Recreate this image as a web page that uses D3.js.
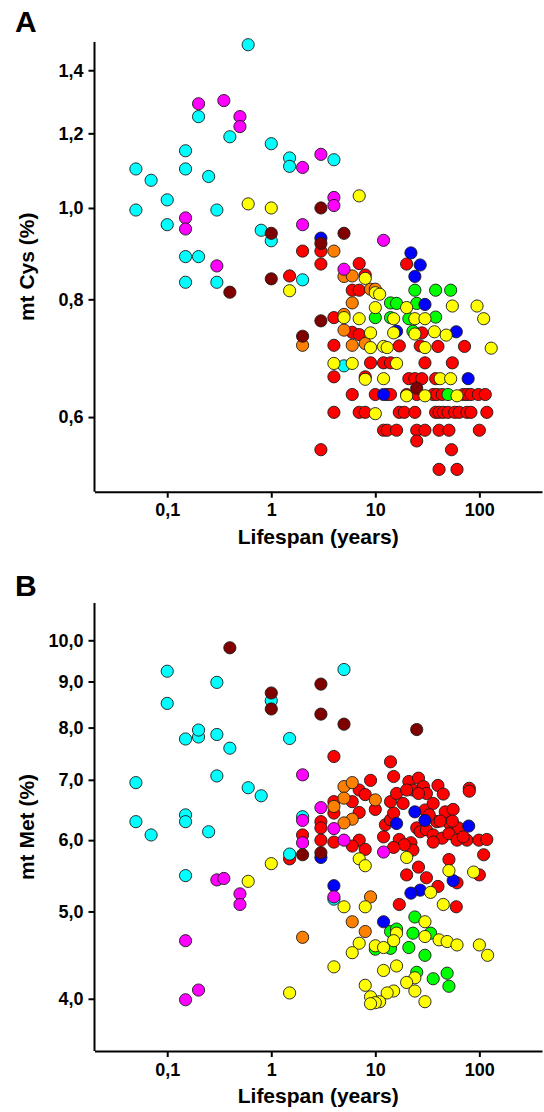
<!DOCTYPE html>
<html><head><meta charset="utf-8">
<script src="https://cdn.jsdelivr.net/npm/d3@7"></script>
<style>body{margin:0;background:#fff}svg{display:block}</style>
</head><body>
<svg id="c" width="544" height="1112"></svg>
<script>
// ---------- DATA ----------
const xTicks = [0.1, 1, 10, 100];
const xTickLabels = ["0,1", "1", "10", "100"];
const cysTicks = [0.6, 0.8, 1.0, 1.2, 1.4];
const cysTickLabels = ["0,6", "0,8", "1,0", "1,2", "1,4"];
const metTicks = [4, 5, 6, 7, 8, 9, 10];
const metTickLabels = ["4,0", "5,0", "6,0", "7,0", "8,0", "9,0", "10,0"];

const groupNames = ["red", "orange", "green", "blue", "cyan", "magenta", "brown", "yellow"];
const groupColors = ["#ff0000", "#ff8000", "#00ff00", "#0000ff", "#00ffff", "#ff00ff", "#800000", "#ffff00"];

// Panel A: [lifespan (years), mt Cys (%)]
const cysRed = [[1.5,0.847],[2,0.90],[3,0.90],[3,0.872],[20,0.872],[7,0.873],[8,0.849],[6,0.818],[7,0.818],[4,0.765],[6,0.738],[7,0.734],[28,0.737],[4,0.715],[17,0.714],[27,0.714],[40,0.713],[72,0.713],[9,0.685],[12,0.685],[14,0.685],[30,0.685],[55,0.685],[4,0.662],[8,0.662],[21,0.659],[24,0.659],[28,0.659],[38,0.659],[6,0.634],[10,0.634],[13,0.634],[14,0.634],[20,0.634],[25,0.634],[36,0.634],[39,0.634],[44,0.634],[70,0.634],[76,0.634],[83,0.634],[98,0.634],[114,0.634],[4,0.607],[7,0.607],[8,0.607],[17,0.607],[19,0.607],[24,0.607],[38,0.607],[41,0.607],[45,0.607],[50,0.607],[58,0.607],[64,0.607],[76,0.607],[83,0.607],[118,0.607],[12,0.581],[13,0.581],[16,0.581],[25,0.581],[30,0.581],[41,0.581],[51,0.581],[100,0.581],[25,0.566],[3,0.554],[54,0.554],[41,0.528],[61,0.528]];
const cysOrange = [[4,0.90],[5,0.846],[6,0.847],[9,0.82],[10,0.82],[6,0.793],[5,0.771],[2,0.715],[5,0.742],[6,0.715],[8,0.718]];
const cysGreen = [[14,0.793],[16,0.792],[24,0.818],[38,0.818],[53,0.818],[25,0.792],[10,0.765],[14,0.765],[21,0.763],[38,0.766],[23,0.74],[50,0.634]];
const cysBlue = [[3,0.929],[22,0.896],[27,0.87],[24,0.846],[30,0.79],[16,0.74],[60,0.739],[78,0.659],[12,0.634]];
const cysCyan = [[0.6,1.49],[0.2,1.25],[0.4,1.19],[1,1.17],[0.15,1.15],[0.15,1.10],[0.05,1.10],[0.07,1.07],[0.25,1.08],[0.1,1.02],[0.05,0.995],[0.3,0.995],[0.1,0.96],[0.8,0.947],[1,0.923],[0.15,0.888],[0.2,0.888],[0.15,0.834],[0.3,0.834],[1.5,1.13],[1.5,1.107],[4,1.125],[2,0.839],[5,0.68]];
const cysMagenta = [[0.2,1.29],[0.35,1.30],[0.5,1.25],[0.5,1.22],[0.15,0.976],[0.15,0.95],[0.3,0.868],[2,1.104],[3,1.14],[4,1.026],[4,1.006],[2,0.96],[12,0.924],[5,0.861]];
const cysBrown = [[0.4,0.814],[1,0.94],[1,0.841],[3,1.0],[5,0.94],[3,0.917],[3,0.759],[2,0.731],[25,0.644]];
const cysYellow = [[0.6,1.01],[1,1.0],[1.5,0.817],[7,1.03],[8,0.842],[10,0.813],[11,0.81],[10,0.784],[20,0.784],[55,0.787],[95,0.787],[110,0.763],[130,0.71],[5,0.765],[7,0.763],[15,0.763],[24,0.763],[30,0.763],[9,0.737],[15,0.737],[24,0.735],[37,0.739],[48,0.733],[9,0.711],[12,0.713],[13,0.711],[30,0.711],[4,0.684],[6,0.684],[16,0.684],[8,0.658],[12,0.659],[42,0.659],[53,0.659],[20,0.632],[30,0.632],[61,0.632],[10,0.605]];

// Panel B: [lifespan (years), mt Met (%)]
const metRed = [[4,7.43],[14,7.33],[15,7.06],[9,6.99],[7,6.82],[8,6.74],[6,6.62],[4,6.62],[7,6.44],[4,6.43],[10,6.49],[3,6.29],[3,6.19],[3,6.0],[2,6.08],[1.5,5.72],[4,5.97],[7,6.0],[8,5.86],[6,5.91],[12,6.05],[12.5,6.24],[14,6.32],[15,6.43],[14,6.62],[16,6.76],[18.5,6.59],[21,6.97],[26,7.03],[23,6.82],[29,6.88],[31,6.76],[40,6.90],[45,6.75],[80,6.85],[80,6.8],[30,6.48],[36,6.59],[47,6.45],[56,6.49],[39,6.29],[51,6.27],[63,6.19],[76,6.0],[99,6.0],[118,6.01],[110,5.78],[25,6.19],[27,6.13],[31,6.16],[36,6.08],[44,6.03],[51,6.10],[61,6.0],[36,5.97],[17,6.01],[22,5.96],[23,5.85],[19,5.93],[15,5.89],[26,5.60],[20,5.49],[31,5.45],[40,5.33],[51,5.71],[61,5.38],[100,5.49],[17,5.09],[60,5.06],[20,6.82],[26,6.76],[33,6.4],[42,6.3],[55,6.3],[70,6.05]];
const metOrange = [[5,6.88],[6,6.95],[5,6.68],[10,6.65],[4,6.54],[6,6.33],[5,6.27],[9,5.19],[6,4.87],[2,4.68],[8,4.75]];
const metGreen = [[14,4.75],[16,4.78],[24,4.93],[23,4.73],[34,4.73],[10,4.54],[14,4.55],[21,4.56],[30,4.47],[25,4.28],[36,4.21],[49,4.27],[51,4.13]];
const metBlue = [[24,6.45],[30,6.31],[16,6.26],[79,6.22],[3,5.74],[27,5.28],[22,5.24],[56,5.41],[4,5.34],[12,4.87]];
const metCyan = [[0.1,9.24],[0.1,8.51],[0.3,8.98],[1,8.57],[0.15,7.77],[0.2,7.81],[0.2,7.95],[0.3,7.86],[0.4,7.59],[0.3,7.07],[0.05,6.95],[0.6,6.86],[0.8,6.72],[0.05,6.29],[0.15,6.40],[0.15,6.29],[0.07,6.08],[0.25,6.13],[0.15,5.48],[1.5,5.79],[5,9.28],[1.5,7.78],[2,6.37],[4,5.16]];
const metMagenta = [[0.3,5.42],[0.35,5.44],[0.5,5.23],[0.5,5.09],[0.15,4.64],[0.2,4.09],[0.15,3.99],[2,7.09],[3,6.52],[2,6.31],[4,6.18],[2,5.96],[5,6.0],[12,5.82],[4,5.19]];
const metBrown = [[0.4,9.81],[1,8.74],[1,8.39],[3,8.94],[3,8.28],[5,8.07],[25,7.96],[2,5.78],[3,5.81]];
const metYellow = [[0.6,5.40],[1,5.65],[7,5.72],[8,5.62],[20,5.74],[34,5.25],[51,5.55],[88,5.53],[5,5.06],[8,5.06],[45,5.09],[30,4.87],[16,4.73],[15,4.64],[30,4.69],[41,4.65],[49,4.63],[61,4.59],[7,4.61],[6,4.50],[10,4.58],[12,4.56],[100,4.59],[120,4.47],[4,4.34],[12,4.30],[16,4.35],[24,4.22],[20,4.17],[24,4.08],[8,4.14],[15,4.08],[13,4.06],[9,4.02],[11,3.97],[10,3.96],[9,3.95],[30,3.97],[1.5,4.06]];

// ---------- DRAW ----------
const svg = d3.select("#c");
const FONT = "'Liberation Sans', Arial, sans-serif";
const xDomain = [0.02, 400];
const xRange = [94.5, 542];

const panels = [
  { letter: "A", letterY: 32, top: 42, bottom: 491.7, yDomain: [0.5, 1.5], ticks: cysTicks, tickLabels: cysTickLabels,
    title: "mt Cys (%)", series: [cysRed, cysOrange, cysGreen, cysBlue, cysCyan, cysMagenta, cysBrown, cysYellow] },
  { letter: "B", letterY: 596, top: 603, bottom: 1051, yDomain: [3.5, 11], ticks: metTicks, tickLabels: metTickLabels,
    title: "mt Met (%)", series: [metRed, metOrange, metGreen, metBlue, metCyan, metMagenta, metBrown, metYellow] }
];

panels.forEach(p => {
  const x = d3.scaleLog().domain(xDomain).range(xRange);
  const y = d3.scaleLog().domain(p.yDomain).range([p.bottom, p.top]);
  const g = svg.append("g");

  // points
  p.series.forEach((arr, i) => {
    g.append("g").selectAll("circle").data(arr).join("circle")
      .attr("cx", d => x(d[0]))
      .attr("cy", d => y(d[1]))
      .attr("r", 6.1)
      .attr("fill", groupColors[i])
      .attr("stroke", "#1a1a1a")
      .attr("stroke-width", 0.9);
  });

  // axes
  const yAxis = d3.axisLeft(y).tickValues(p.ticks)
    .tickFormat((d, i) => p.tickLabels[i]).tickSize(6).tickPadding(5).tickSizeOuter(0);
  const ya = g.append("g").attr("transform", `translate(${xRange[0]},0)`).call(yAxis);
  const xAxis = d3.axisBottom(x).tickValues(xTicks)
    .tickFormat((d, i) => xTickLabels[i]).tickSize(6).tickPadding(6).tickSizeOuter(0);
  const xa = g.append("g").attr("transform", `translate(0,${p.bottom})`).call(xAxis);

  [ya, xa].forEach(a => {
    a.select(".domain").attr("stroke", "#000").attr("stroke-width", 2);
    a.selectAll(".tick line").attr("stroke", "#000").attr("stroke-width", 2);
    a.selectAll(".tick text").attr("fill", "#000")
      .style("font-family", FONT).style("font-size", "18px").style("font-weight", "bold");
  });
  ya.select(".domain").attr("d", `M0,${p.top}V${p.bottom}`);

  // y title
  g.append("text")
    .attr("transform", `translate(34,${(p.top + p.bottom) / 2}) rotate(-90)`)
    .attr("text-anchor", "middle")
    .style("font-family", FONT).style("font-size", "21px").style("font-weight", "bold")
    .text(p.title);
  // x title
  g.append("text")
    .attr("x", (xRange[0] + xRange[1]) / 2)
    .attr("y", p.bottom + 52)
    .attr("text-anchor", "middle")
    .style("font-family", FONT).style("font-size", "21px").style("font-weight", "bold")
    .text("Lifespan (years)");
  // panel letter
  g.append("text")
    .attr("x", 15).attr("y", p.letterY)
    .style("font-family", FONT).style("font-size", "30px").style("font-weight", "bold")
    .text(p.letter);
});
</script>
</body></html>
